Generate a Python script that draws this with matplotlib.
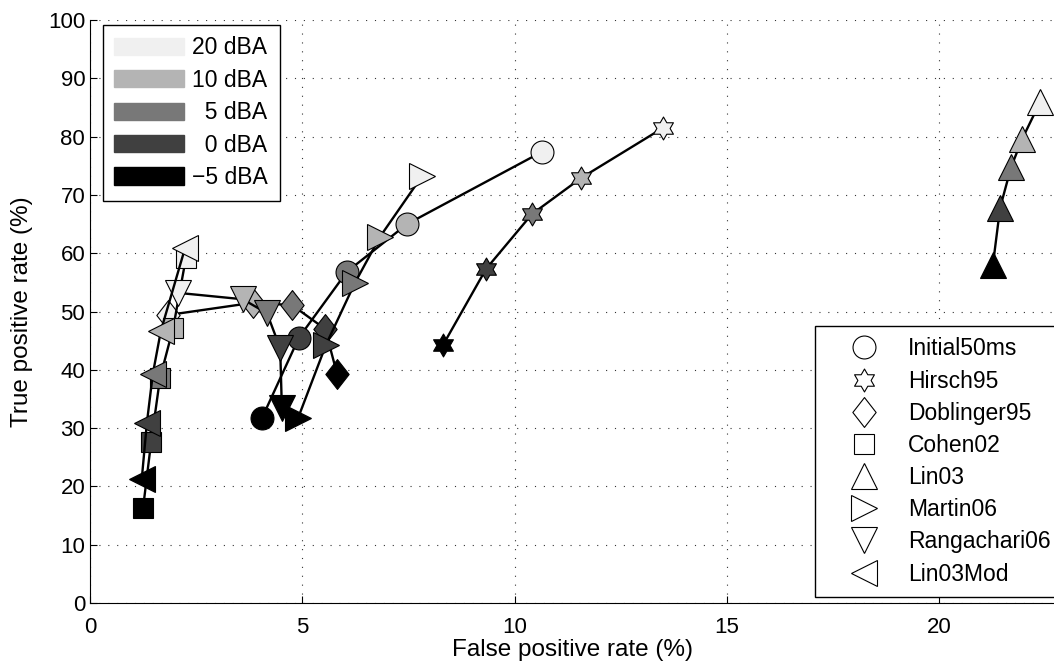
import numpy as np
import matplotlib
matplotlib.use("Agg")
import matplotlib.pyplot as plt
from matplotlib.patches import Patch
from matplotlib.lines import Line2D
from matplotlib.path import Path

plt.rcParams['font.family'] = ['Liberation Sans', 'DejaVu Sans']
plt.rcParams['axes.unicode_minus'] = True

# noise levels (order in each series: 20, 10, 5, 0, -5 dBA)
noise_labels = ['20 dBA', '10 dBA', '\u20075 dBA', '\u20070 dBA', '\u22125 dBA']
noise_colors = ['#f0f0f0', '#b4b4b4', '#787878', '#404040', '#000000']

methods = ['Initial50ms', 'Hirsch95', 'Doblinger95', 'Cohen02',
           'Lin03', 'Martin06', 'Rangachari06', 'Lin03Mod']

# false positive rate (%)
fpr_initial = [10.65, 7.47, 6.05, 4.92, 4.05]
fpr_hirsch = [13.50, 11.57, 10.41, 9.33, 8.32]
fpr_doblinger = [1.84, 3.84, 4.76, 5.54, 5.82]
fpr_cohen = [2.26, 1.96, 1.65, 1.44, 1.25]
fpr_lin03 = [22.38, 21.96, 21.70, 21.44, 21.27]
fpr_martin = [7.82, 6.83, 6.24, 5.56, 4.90]
fpr_rangachari = [2.07, 3.60, 4.17, 4.48, 4.52]
fpr_lin03mod = [2.24, 1.67, 1.48, 1.34, 1.22]

# true positive rate (%)
tpr_initial = [77.4, 65.0, 56.8, 45.5, 31.7]
tpr_hirsch = [81.5, 72.9, 66.7, 57.3, 44.3]
tpr_doblinger = [49.4, 51.5, 51.1, 47.0, 39.3]
tpr_cohen = [59.2, 47.2, 38.6, 27.6, 16.3]
tpr_lin03 = [85.9, 79.6, 74.8, 67.8, 58.0]
tpr_martin = [73.2, 62.8, 54.9, 44.3, 31.7]
tpr_rangachari = [53.2, 52.1, 49.7, 43.7, 33.4]
tpr_lin03mod = [60.9, 46.7, 39.3, 30.9, 21.3]

fpr_all = [fpr_initial, fpr_hirsch, fpr_doblinger, fpr_cohen,
           fpr_lin03, fpr_martin, fpr_rangachari, fpr_lin03mod]
tpr_all = [tpr_initial, tpr_hirsch, tpr_doblinger, tpr_cohen,
           tpr_lin03, tpr_martin, tpr_rangachari, tpr_lin03mod]


def closed_marker(pts):
    pts = np.asarray(pts, dtype=float)
    return Path(np.vstack([pts, pts[:1]]), closed=True)


# matlab style hexagram and diamond
ang = np.deg2rad(np.arange(12) * 30 + 90)
rad = np.where(np.arange(12) % 2 == 0, 1.0, 1 / np.sqrt(3))
hexagram = closed_marker(np.column_stack([rad * np.cos(ang), rad * np.sin(ang)]))
diamond = closed_marker([(0, 1), (0.78, 0), (0, -1), (-0.78, 0)])

markers = ['o', hexagram, diamond, 's', '^', '>', 'v', '<']
msizes = [16.5, 16.5, 21.5, 14, 18.5, 18.5, 18.5, 18.5]

fig = plt.figure(figsize=(10.54, 6.64), dpi=100)
ax = fig.add_axes([90 / 1054, 61 / 664, 1 - 90 / 1054, (603 - 20) / 664])

for i, (xs, ys) in enumerate(zip(fpr_all, tpr_all)):
    ax.plot(xs, ys, '-', color='k', lw=1.7, zorder=3 + 2 * i)
    for x, y, c in zip(xs, ys, noise_colors):
        ax.plot(x, y, linestyle='none', marker=markers[i], ms=msizes[i],
                mfc=c, mec='k', mew=0.8, zorder=4 + 2 * i)

ax.set_xlim(0, (1054 - 90) / 42.45)
ax.set_ylim(0, 100)
ax.set_xticks([0, 5, 10, 15, 20])
ax.set_yticks(np.arange(0, 101, 10))
ax.tick_params(direction='in', length=5, labelsize=16, width=0.8)
ax.tick_params(axis='x', pad=10)
ax.spines['top'].set_visible(False)
ax.spines['right'].set_visible(False)
ax.grid(True, color='#333333', linestyle=(0, (1, 7)), linewidth=0.8)
ax.set_axisbelow(True)
ax.set_ylabel('True positive rate (%)', fontsize=17.5)
ax.yaxis.set_label_coords(-0.059, 0.5)
ax.set_xlabel('False positive rate (%)', fontsize=17.5)
ax.xaxis.set_label_coords(0.5, -0.062)

# noise level legend
h1 = [Patch(facecolor=c, edgecolor=c) for c in noise_colors]
leg1 = ax.legend(h1, noise_labels, loc='upper left',
                 bbox_to_anchor=(103 / 1054, 1 - 25 / 664),
                 bbox_transform=fig.transFigure, fontsize=16.5,
                 fancybox=False, framealpha=1, edgecolor='k',
                 handlelength=3.05, handleheight=0.78, labelspacing=0.41,
                 handletextpad=0.35, borderpad=0.5, borderaxespad=0)
leg1.get_frame().set_linewidth(1.0)
leg1.set_zorder(30)
ax.add_artist(leg1)

# method legend
h2 = [Line2D([], [], linestyle='none', marker=m, ms=s, mfc='white',
             mec='k', mew=0.8) for m, s in zip(markers, msizes)]
leg2 = ax.legend(h2, methods, loc='lower left',
                 bbox_to_anchor=(815 / 1054, 1 - 597 / 664),
                 bbox_transform=fig.transFigure, fontsize=16.5,
                 fancybox=False, framealpha=1, edgecolor='k',
                 handlelength=3.3, labelspacing=0.4, handletextpad=0.25,
                 borderpad=0.5, borderaxespad=0)
leg2.get_frame().set_linewidth(1.0)
leg2.set_zorder(30)

fig.savefig('out.png', dpi=100)
